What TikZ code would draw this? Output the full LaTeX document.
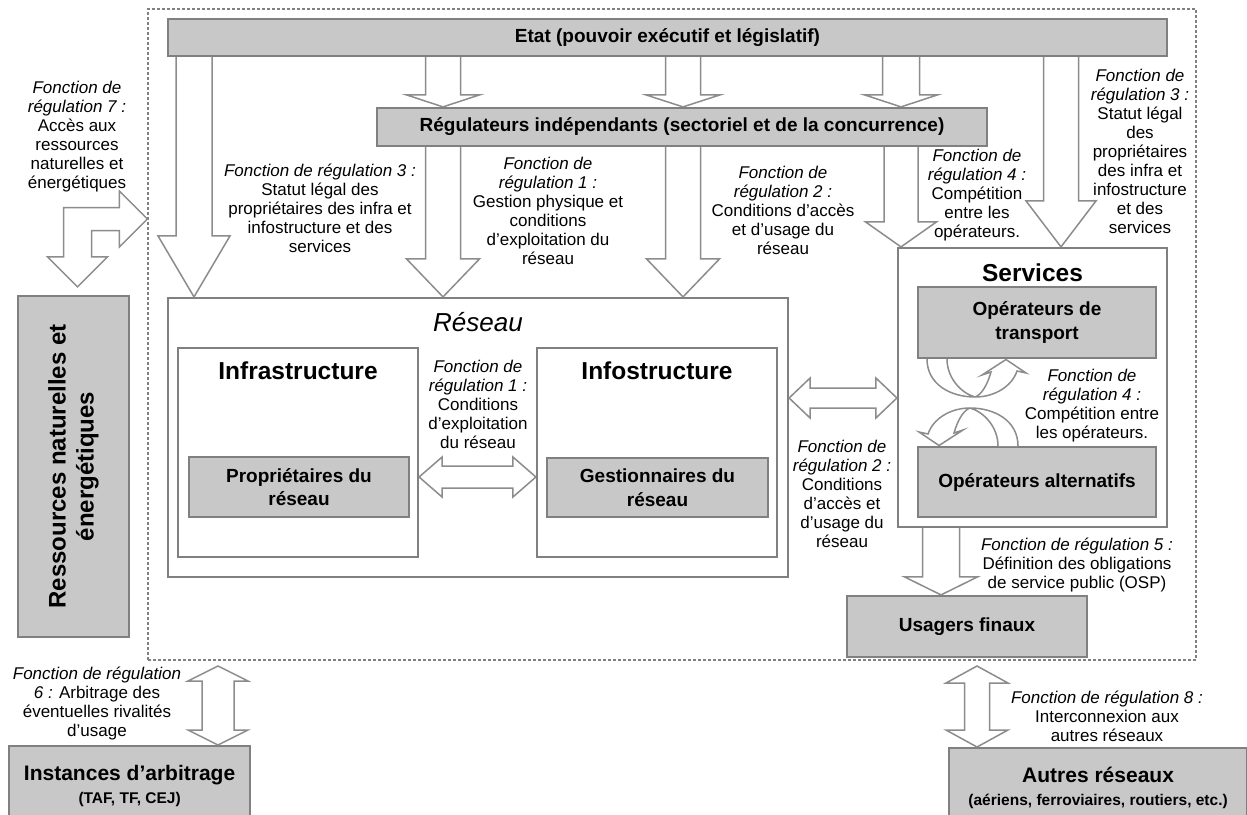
\documentclass[tikz,border=0pt]{standalone}
\usepackage{fontspec}
\setmainfont{Liberation Sans}
\usepackage{tikz}
\usetikzlibrary{calc}
\definecolor{boxfill}{RGB}{200,200,200}
\definecolor{boxline}{RGB}{128,128,128}
\definecolor{arrowline}{RGB}{140,140,140}

% block arrows: start, tip, shaft half width, head half width, head length
\newcommand{\arrowdown}[5]{%
  \draw[blockarrow] let \p1=(#1), \p2=(#2) in
    (\x1-#3pt,\y1) -- (\x1-#3pt,\y2+#5pt) -- (\x1-#4pt,\y2+#5pt) -- (\x1,\y2)
    -- (\x1+#4pt,\y2+#5pt) -- (\x1+#3pt,\y2+#5pt) -- (\x1+#3pt,\y1);}
\newcommand{\arrowboth}[5]{%
  \draw[blockarrow] let \p1=(#1), \p2=(#2) in
    (\x1,\y1) -- (\x1+#5pt,\y1+#4pt) -- (\x1+#5pt,\y1+#3pt) -- (\x2-#5pt,\y1+#3pt)
    -- (\x2-#5pt,\y1+#4pt) -- (\x2,\y1) -- (\x2-#5pt,\y1-#4pt) -- (\x2-#5pt,\y1-#3pt)
    -- (\x1+#5pt,\y1-#3pt) -- (\x1+#5pt,\y1-#4pt) -- cycle;}
\newcommand{\arrowupdown}[5]{%
  \draw[blockarrow] let \p1=(#1), \p2=(#2) in
    (\x1,\y1) -- (\x1+#4pt,\y1-#5pt) -- (\x1+#3pt,\y1-#5pt) -- (\x1+#3pt,\y2+#5pt)
    -- (\x1+#4pt,\y2+#5pt) -- (\x1,\y2) -- (\x1-#4pt,\y2+#5pt) -- (\x1-#3pt,\y2+#5pt)
    -- (\x1-#3pt,\y1-#5pt) -- (\x1-#4pt,\y1-#5pt) -- cycle;}

\begin{document}
\begin{tikzpicture}[x=1pt,y=-1pt]
\tikzstyle{greybox}=[draw=boxline,line width=2.2pt,fill=boxfill,inner sep=0pt,align=center,font=\bfseries\fontsize{19}{23.5}\selectfont]
\tikzstyle{whitebox}=[draw=boxline,line width=2.2pt,fill=white,inner sep=0pt]
\tikzstyle{note}=[inner sep=0pt,align=center,font=\fontsize{17}{19}\selectfont]
\tikzstyle{title}=[inner sep=0pt,font=\bfseries\fontsize{24.5}{28}\selectfont]
\tikzstyle{blockarrow}=[draw=arrowline,line width=1.5pt,fill=white,line join=miter]
\useasboundingbox (0,0) rectangle (1247,814);

% perimetre de la regulation
\node[draw=boxline,line width=1.2pt,dash pattern=on 3pt off 2pt,inner sep=0pt,minimum width=1048pt,minimum height=651pt](perim) at (672,334.5){};

% boites
\node[greybox,minimum width=999pt,minimum height=37pt](etat) at (667.5,37.5){Etat (pouvoir exécutif et législatif)};
\node[greybox,minimum width=610pt,minimum height=38pt](regl) at (682,127){Régulateurs indépendants (sectoriel et de la concurrence)};
\node[greybox,minimum width=111pt,minimum height=341pt](ressources) at (73.5,466.5){};
\node[rotate=90,inner sep=0pt,align=center,font=\bfseries\fontsize{24}{28}\selectfont](tressources) at (ressources.center){Ressources naturelles et\\énergétiques};

\node[whitebox,minimum width=620pt,minimum height=279pt](reseau) at (478,437.5){};
\node[inner sep=0pt,font=\itshape\fontsize{26}{30}\selectfont](treseau) at ([yshift=-25pt]reseau.north){Réseau};
\node[whitebox,minimum width=240pt,minimum height=209pt](infra) at (298,452.5){};
\node[title](tinfra) at ([yshift=-24pt]infra.north){Infrastructure};
\node[whitebox,minimum width=240pt,minimum height=209pt](infos) at (657,452.5){};
\node[title](tinfos) at ([yshift=-24pt]infos.north){Infostructure};
\node[greybox,minimum width=220pt,minimum height=60pt](proprio) at (299,487){Propriétaires du\\réseau};
\node[greybox,minimum width=221pt,minimum height=59pt](gestion) at (657.5,487.5){Gestionnaires du\\réseau};

\node[whitebox,minimum width=269pt,minimum height=279pt](services) at (1032.5,387.5){};
\node[title](tserv) at ([yshift=-26pt]services.north){Services};
\node[greybox,minimum width=238pt,minimum height=71pt](transport) at (1037,322.5){Opérateurs de\\transport};
\node[greybox,minimum width=238pt,minimum height=70pt](altern) at (1037,482){Opérateurs alternatifs};

\node[greybox,minimum width=240pt,minimum height=61pt](usagers) at (967,626.5){Usagers finaux};
\node[greybox,minimum width=298pt,minimum height=80pt,anchor=north west](autres) at (948,747){{\fontsize{21}{23}\selectfont Autres réseaux}\\{\fontsize{15.5}{21}\selectfont (aériens, ferroviaires, routiers, etc.)}};
\node[greybox,minimum width=241pt,minimum height=80pt,anchor=north west](arbitrage) at (8,745){{\fontsize{21}{23}\selectfont Instances d'arbitrage}\\{\fontsize{15.5}{21}\selectfont (TAF, TF, CEJ)}};

% fonctions de regulation
\node[note](f7) at (77,136.5){\textit{Fonction de}\\\textit{régulation 7 :}\\Accès aux\\ressources\\naturelles et\\énergétiques};
\node[note](f3a) at (320,208.5){\textit{Fonction de régulation 3 :}\\Statut légal des\\propriétaires des infra et\\infostructure et des\\services};
\node[note](f1a) at (548,210.5){\textit{Fonction de}\\\textit{régulation 1 :}\\Gestion physique et\\conditions\\d'exploitation du\\réseau};
\node[note](f2a) at (783,210.5){\textit{Fonction de}\\\textit{régulation 2 :}\\Conditions d'accès\\et d'usage du\\réseau};
\node[note](f4a) at (977,195.5){\textit{Fonction de}\\\textit{régulation 4 :}\\Compétition\\entre les\\opérateurs.};
\node[note](f3b) at (1140,151.5){\textit{Fonction de}\\\textit{régulation 3 :}\\Statut légal\\des\\propriétaires\\des infra et\\infostructure\\et des\\services};
\node[note](f1b) at (478,404.5){\textit{Fonction de}\\\textit{régulation 1 :}\\Conditions\\d'exploitation\\du réseau};
\node[note](f2b) at (842,493.5){\textit{Fonction de}\\\textit{régulation 2 :}\\Conditions\\d'accès et\\d'usage du\\réseau};
\node[note](f4b) at (1092,405.5){\textit{Fonction de}\\\textit{régulation 4 :}\\Compétition entre\\les opérateurs.};
\node[note](f5) at (1077,565){\textit{Fonction de régulation 5 :}\\Définition des obligations\\de service public (OSP)};
\node[note](f6) at (97,703.5){\textit{Fonction de régulation}\\\textit{6 :} Arbitrage des\\éventuelles rivalités\\d'usage};
\node[note](f8) at (1107,716){\textit{Fonction de régulation 8 :}\\Interconnexion aux\\autres réseaux};

% colonnes et lignes des fleches
\coordinate (c1) at (194,0);
\coordinate (c2) at (443,0);
\coordinate (c3) at (683,0);
\coordinate (c4) at (901,0);
\coordinate (c5) at (1061,0);
\coordinate (c6) at (941,0);
\coordinate (rowa) at (0,477);
\coordinate (rowb) at (0,398);
\coordinate (rowc) at (0,219);
\coordinate (tarb) at (218,666);
\coordinate (tres) at (977,666);

% fleches
\arrowdown{etat.south -| c1}{reseau.north -| c1}{18}{36}{61}
\arrowdown{etat.south -| c2}{regl.north -| c2}{17.5}{36.5}{12}
\arrowdown{etat.south -| c3}{regl.north -| c3}{17.5}{37}{12}
\arrowdown{etat.south -| c4}{regl.north -| c4}{18.5}{36.5}{12}
\arrowdown{regl.south -| c2}{reseau.north -| c2}{17.5}{36.5}{38}
\arrowdown{regl.south -| c3}{reseau.north -| c3}{17.5}{36.5}{38}
\arrowdown{regl.south -| c4}{services.north -| c4}{17}{35.5}{25}
\arrowdown{etat.south -| c5}{services.north -| c5}{17.5}{35}{46}
\arrowdown{services.south -| c6}{usagers.north -| c6}{18.5}{36.5}{18}
\arrowboth{infra.east |- rowa}{infos.west |- rowa}{11}{20}{23}
\arrowboth{reseau.east |- rowb}{services.west |- rowb}{10}{20}{21}
\arrowupdown{tarb}{arbitrage.north -| tarb}{16}{30}{15}
\arrowupdown{tres}{autres.north -| tres}{12.5}{31}{17}

% acces aux ressources
\draw[blockarrow] let \p1=([shift={(4,-8)}]ressources.north), \p2=(perim.west |- rowc) in
  (\x1,\y1) -- (\x1+30pt,\y1+30pt) -- (\x1+14pt,\y1+30pt) -- (\x1+14pt,\y2-11.5pt)
  -- (\x2-28pt,\y2-11.5pt) -- (\x2-28pt,\y2-28pt) -- (\x2,\y2) -- (\x2-28pt,\y2+28pt)
  -- (\x2-28pt,\y2+11.5pt) -- (\x1-14pt,\y2+11.5pt) -- (\x1-14pt,\y1+30pt) -- (\x1-30pt,\y1+30pt) -- cycle;

% competition entre operateurs
\coordinate (swap) at ($(transport.south)!0.5!(altern.north)+(-64.5,0)$);
\foreach \ang in {0,180}{
\begin{scope}[shift={(swap)},rotate=\ang]
\draw[blockarrow] (-45.5,-43.5) .. controls (-45.5,-18.5) and (-22.5,-5.5) .. (2.5,-5.5)
  .. controls (22.5,-5.5) and (39.5,-16.5) .. (44.5,-31.5) -- (53.5,-29.5) -- (33.5,-43)
  -- (9.5,-27.5) -- (18.5,-30.5) .. controls (14.5,-16.5) and (8.5,-7.5) .. (2.5,-5.5)
  .. controls (-11.5,-9.5) and (-25.5,-24.5) .. (-25.5,-43.5);
\end{scope}}
\end{tikzpicture}
\end{document}
